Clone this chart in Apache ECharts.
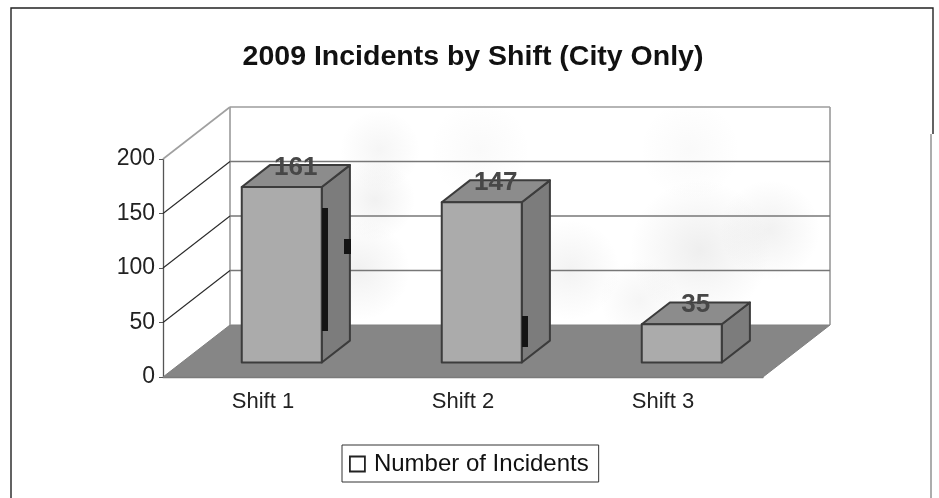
<!DOCTYPE html>
<html><head><meta charset="utf-8">
<style>html,body{margin:0;padding:0;background:#fff}#c{width:939px;height:498px}</style>
<script src="https://cdn.jsdelivr.net/npm/echarts@6/dist/echarts.min.js"></script>
</head><body><div id="c"></div>
<script>
const titleText = '2009 Incidents by Shift (City Only)';
const seriesName = 'Number of Incidents';
const categories = ['Shift 1', 'Shift 2', 'Shift 3'];
const incidents = [161, 147, 35];
const yTicks = [0, 50, 100, 150, 200];

const FONT = '"Liberation Sans", Arial, sans-serif';
const DX = 67, DY = -52;          // depth of the 3D box
const chart = echarts.init(document.getElementById('c'), null, {renderer: 'canvas'});

function wallItem(params, api) {
  const v = api.value(0);
  const first = api.coord([0, v]);
  const band = api.size([1, 0])[0];
  const left = first[0] - band / 2, right = left + 3 * band, y = first[1];
  const children = [];
  if (v === 0) {
    children.push({type: 'polygon', shape: {points: [[left, y], [right, y], [right + DX, y + DY], [left + DX, y + DY]]},
      style: {fill: '#868686', stroke: '#808080', lineWidth: 1}});
    const top = api.coord([0, 200])[1];
    children.push({type: 'line', shape: {x1: left + DX, y1: y + DY, x2: left + DX, y2: top + DY}, style: {stroke: '#9a9a9a', lineWidth: 1.6}});
    children.push({type: 'line', shape: {x1: right + DX, y1: y + DY, x2: right + DX, y2: top + DY}, style: {stroke: '#8a8a8a', lineWidth: 1.4}});
  } else {
    children.push({type: 'line', shape: {x1: left, y1: y, x2: left + DX, y2: y + DY},
      style: {stroke: v === 200 ? '#a0a0a0' : '#2a2a2a', lineWidth: v === 200 ? 1.6 : 1.1}});
    children.push({type: 'line', shape: {x1: left + DX, y1: y + DY, x2: right + DX, y2: y + DY},
      style: {stroke: v === 200 ? '#9c9c9c' : '#777777', lineWidth: 1.5}});
  }
  return {type: 'group', children};
}

function barItem(params, api) {
  const c = api.coord([api.value(0), api.value(1)]);
  const b = api.coord([api.value(0), 0]);
  const band = api.size([1, 0])[0];
  const w = band * 0.4;
  const fx = 0.28, bx = 0.70;
  const x0 = c[0] - w / 2 + DX * fx, x1 = x0 + w;
  const yT = c[1] + DY * fx, yB = b[1] + DY * fx;
  const ox = DX * (bx - fx), oy = DY * (bx - fx);
  const st = {stroke: '#3c3c3c', lineWidth: 2, lineJoin: 'round'};
  return {type: 'group', children: [
    {type: 'polygon', shape: {points: [[x1, yT], [x1 + ox, yT + oy], [x1 + ox, yB + oy], [x1, yB]]}, style: {fill: '#7c7c7c', ...st}},
    {type: 'polygon', shape: {points: [[x0, yT], [x0 + ox, yT + oy], [x1 + ox, yT + oy], [x1, yT]]}, style: {fill: '#8c8c8c', ...st}},
    {type: 'rect', shape: {x: x0, y: yT, width: w, height: yB - yT}, style: {fill: '#ababab', ...st}},
    {type: 'text', z2: 10, style: {text: String(api.value(1)), x: x0 + w / 2 + 14, y: yT - 19, align: 'center', verticalAlign: 'middle',
      font: 'bold 26px ' + FONT, fill: '#474747'}}
  ]};
}

function blob(x, y, r, a) {
  return {type: 'circle', z: 0, shape: {cx: x, cy: y, r}, style: {fill: {type: 'radial', x: 0.5, y: 0.5, r: 0.5,
    colorStops: [{offset: 0, color: 'rgba(120,120,120,' + a + ')'}, {offset: 1, color: 'rgba(120,120,120,0)'}]}}, silent: true};
}
function dark(x, y, w, h) {
  return {type: 'rect', z: 100, shape: {x, y, width: w, height: h}, style: {fill: '#141414'}, silent: true};
}

chart.setOption({
  animation: false,
  backgroundColor: '#fff',
  title: {text: titleText, left: 468, top: 38, textAlign: 'center',
    textStyle: {fontFamily: FONT, fontSize: 28.5, fontWeight: 'bold', color: '#111'}},
  legend: {left: 342, top: 445, padding: [7, 10, 6, 7], itemGap: 0, itemWidth: 15, itemHeight: 15,
    borderColor: '#333', borderWidth: 1, backgroundColor: '#fff',
    data: [{name: seriesName, icon: 'rect', itemStyle: {color: '#fff', borderColor: '#222', borderWidth: 1.8}}],
    textStyle: {fontFamily: FONT, fontSize: 24, color: '#111', padding: [0, 0, 0, 4]}},
  grid: {left: 163, top: 159, width: 600, height: 218, containLabel: false},
  xAxis: {type: 'category', data: categories, boundaryGap: true,
    axisLine: {lineStyle: {color: '#777', width: 1.3}},
    axisTick: {length: 4, lineStyle: {color: '#555'}},
    axisLabel: {fontFamily: FONT, fontSize: 22, color: '#222', margin: 14}},
  yAxis: {type: 'value', min: 0, max: 200, interval: 50,
    axisLine: {show: true, lineStyle: {color: '#555', width: 1.3}},
    axisTick: {show: true, length: 4, lineStyle: {color: '#555'}},
    splitLine: {show: false},
    axisLabel: {fontFamily: FONT, fontSize: 23, color: '#222', margin: 8}},
  series: [
    {type: 'custom', name: 'walls', silent: true, z: 1, clip: false, coordinateSystem: 'cartesian2d',
      encode: {y: 0}, renderItem: wallItem, data: yTicks.map(v => [v])},
    {type: 'custom', name: seriesName, z: 3, clip: false, coordinateSystem: 'cartesian2d',
      encode: {x: 0, y: 1}, renderItem: barItem, itemStyle: {color: '#fff'},
      data: incidents.map((v, i) => [i, v])}
  ],
  graphic: [
    {type: 'polyline', z: 0, shape: {points: [[11, 498], [11, 8], [933, 8], [933, 134]]}, style: {stroke: '#222', lineWidth: 1.4, fill: null}},
    {type: 'line', z: 0, shape: {x1: 931, y1: 134, x2: 931, y2: 498}, style: {stroke: '#999', lineWidth: 1.6}},
    blob(380, 150, 40, 0.07), blob(360, 270, 50, 0.10), blob(480, 150, 50, 0.04),
    blob(375, 200, 40, 0.10), blob(570, 270, 50, 0.09), blob(700, 250, 70, 0.12),
    blob(770, 230, 50, 0.10), blob(690, 150, 50, 0.04), blob(640, 300, 40, 0.07),
    dark(322, 208, 6, 123), dark(344, 239, 7, 15), dark(522, 316, 6, 31)
  ]
});
</script></body></html>
